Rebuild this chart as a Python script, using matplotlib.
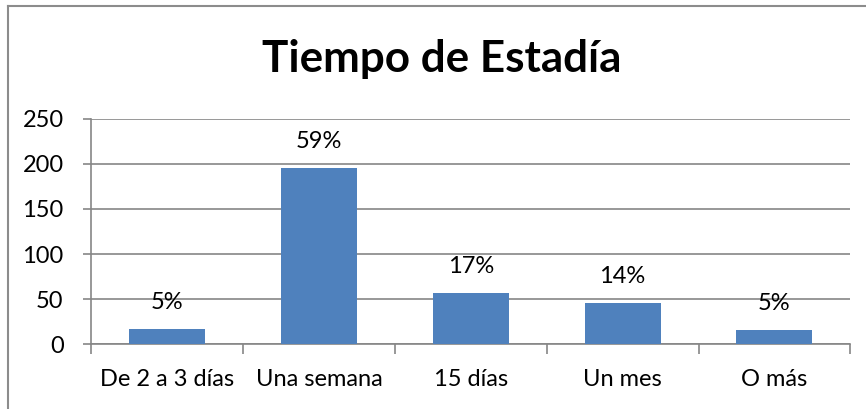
import matplotlib
matplotlib.use("Agg")
import matplotlib.pyplot as plt
from matplotlib.lines import Line2D

categories = ["De 2 a 3 días", "Una semana", "15 días", "Un mes", "O más"]
values = [17, 195, 57, 46, 16]
labels = ["5%", "59%", "17%", "14%", "5%"]
yticks = [0, 50, 100, 150, 200, 250]
title = "Tiempo de Estadía"

plt.rcParams['font.family'] = ['Lato', 'DejaVu Sans']

W, H = 866, 409
fig = plt.figure(figsize=(W / 100, H / 100), dpi=100)
ax = fig.add_axes([91.3 / W, 1 - 344.3 / H, (850.3 - 91.3) / W, (344.3 - 118.7) / H])

grid_c = "#868686"
fs = 17
x = list(range(len(categories)))
ax.bar(x, values, width=0.5, color="#4F81BD", zorder=3)
ax.set_xlim(-0.5, len(categories) - 0.5)
ax.set_ylim(0, 250)
ax.set_yticks(yticks)
ax.set_yticklabels([str(v) for v in yticks], fontsize=fs)
ax.yaxis.grid(True, color=grid_c, linewidth=1.2, zorder=0)
ax.set_axisbelow(True)
for s in ["top", "right"]:
    ax.spines[s].set_visible(False)
for s in ["left", "bottom"]:
    ax.spines[s].set_color(grid_c)
    ax.spines[s].set_linewidth(1.2)
ax.tick_params(axis="y", length=6, width=1.2, color=grid_c, pad=14)
ax.set_xticks(x)
ax.set_xticklabels(categories, fontsize=fs)
ax.tick_params(axis="x", length=0, pad=18)
ax.set_xticks([i - 0.5 for i in range(len(categories) + 1)], minor=True)
ax.tick_params(axis="x", which="minor", length=7, width=1.2, color=grid_c)

for xi, v, lab in zip(x, values, labels):
    ax.annotate(lab, (xi, v), xytext=(0, 19), textcoords="offset points",
                ha="center", va="center", fontsize=fs)

fig.text(441.5 / W, 1 - 71.7 / H, title, ha="center", va="baseline",
         fontsize=31.7, fontweight="bold")

# outer chart border (top and left visible)
fig.add_artist(Line2D([8 / W, 1], [1 - 6 / H, 1 - 6 / H], transform=fig.transFigure, color="#8c8c8c", linewidth=1.5))
fig.add_artist(Line2D([8 / W, 8 / W], [0, 1 - 6 / H], transform=fig.transFigure, color="#8c8c8c", linewidth=1.5))

fig.savefig("out.png", dpi=100)
